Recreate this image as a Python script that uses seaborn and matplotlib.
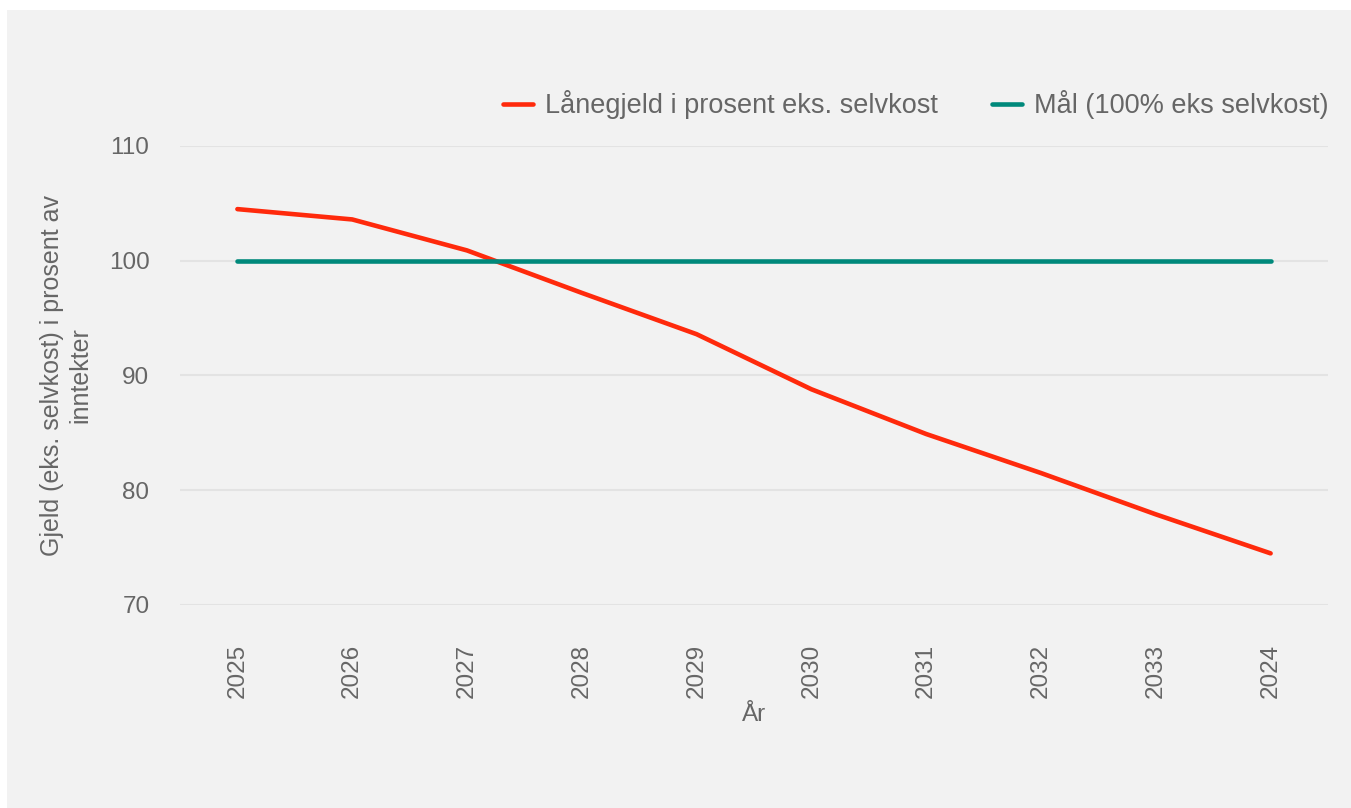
import matplotlib.pyplot as plt
import matplotlib.patches as mpatches
import seaborn as sns
import pandas as pd

# Data
years = ["2025", "2026", "2027", "2028", "2029", "2030", "2031", "2032", "2033", "2024"]
laanegjeld = [104.5, 103.6, 100.9, 97.2, 93.6, 88.8, 84.9, 81.5, 77.9, 74.5]
maal = [100, 100, 100, 100, 100, 100, 100, 100, 100, 100]
series_names = ["Lånegjeld i prosent eks. selvkost", "Mål (100% eks selvkost)"]
y_ticks = [70, 80, 90, 100, 110]

df = pd.DataFrame({
    "År": years * 2,
    "verdi": laanegjeld + maal,
    "serie": [series_names[0]] * len(years) + [series_names[1]] * len(years),
})

sns.set_theme(style="white")
plt.rcParams["font.family"] = ["Liberation Sans", "DejaVu Sans"]

text_col = "#666666"
bg = "#f2f2f2"

fig = plt.figure(figsize=(13.51, 8.08), dpi=100, facecolor="white")
# grey panel behind the chart (white strip at left and top)
fig.patches.append(mpatches.Rectangle((7 / 1351, 0), 1, 1 - 10 / 808,
                                      transform=fig.transFigure,
                                      facecolor=bg, edgecolor="none", zorder=-10))

ax = fig.add_axes([180 / 1351, 1 - 605 / 808, 1148 / 1351, 459 / 808])
ax.set_facecolor(bg)

sns.lineplot(data=df, x="År", y="verdi", hue="serie",
             palette=["#ff2a0c", "#00897b"], linewidth=3.3, ax=ax,
             legend=True, sort=False)

for ln in ax.lines:
    ln.set_solid_capstyle("round")

ax.set_xlim(-0.5, len(years) - 0.5)
ax.set_ylim(70, 110)
ax.set_yticks(y_ticks)
ax.yaxis.grid(True, color="#e3e3e3", linewidth=1.5)
ax.xaxis.grid(False)
ax.set_axisbelow(True)
for s in ax.spines.values():
    s.set_visible(False)

ax.tick_params(axis="both", length=0, labelsize=17.5, labelcolor=text_col)
ax.tick_params(axis="x", pad=28, labelrotation=90)
ax.tick_params(axis="y", pad=22)

ax.set_xlabel("År", fontsize=17.5, color=text_col, labelpad=4)
ax.set_ylabel("Gjeld (eks. selvkost) i prosent av\ninntekter", fontsize=18,
              color=text_col, labelpad=12)

leg = ax.legend(loc="lower right", bbox_to_anchor=(1.01, 1.035), ncol=2,
                frameon=False, fontsize=19.5, handlelength=1.1,
                columnspacing=2.0, handletextpad=0.45, borderaxespad=0)
for t in leg.get_texts():
    t.set_color(text_col)

fig.savefig("out.png", dpi=100, facecolor="white")
